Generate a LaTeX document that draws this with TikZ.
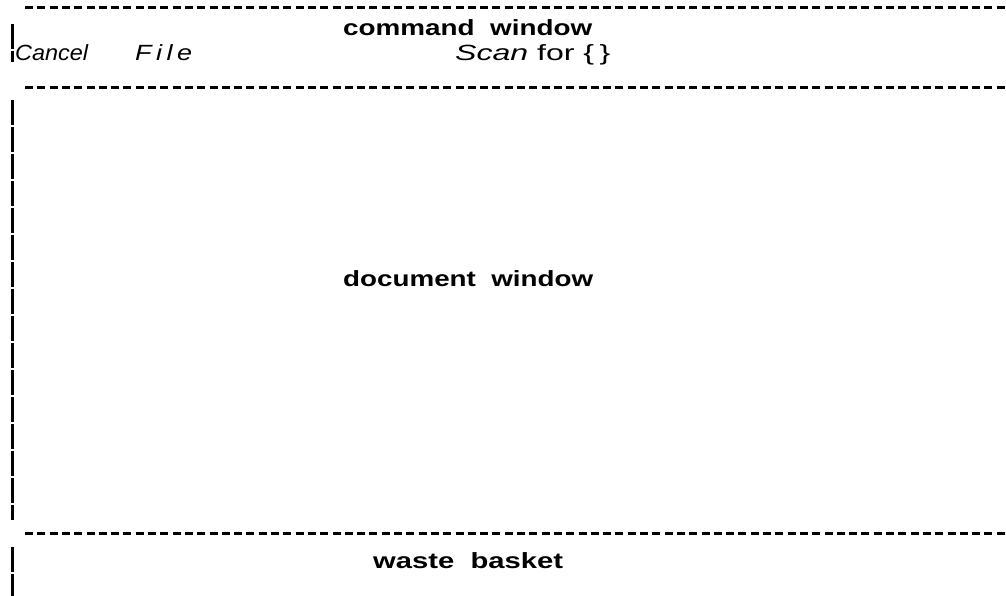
\documentclass[tikz,border=0pt]{standalone}
\usepackage{fontspec}
\setmainfont{Liberation Sans}
\tikzset{
  hdash/.style={line width=3pt, dash pattern=on 8pt off 4.3pt},
  vbar/.style={line width=3pt, dash pattern=on 25pt off 2pt},
  lbl/.style={anchor=base west, inner sep=0pt, font=\fontsize{22}{26}\selectfont},
}
\newcommand{\fitw}[2]{\resizebox{#1pt}{\height}{#2}}
\begin{document}
\begin{tikzpicture}[x=1pt,y=-1pt]
\useasboundingbox (0,0) rectangle (1006,596);
% horizontal dashed rules
\coordinate (t1) at (25,8);  \coordinate (t2) at (1006,8);
\coordinate (m1) at (25,88); \coordinate (m2) at (1006,88);
\coordinate (b1) at (25,533); \coordinate (b2) at (1006,533);
\draw[hdash] (t1) -- (t2);
\draw[hdash] (m1) -- (m2);
\draw[hdash] (b1) -- (b2);
% left bars
\coordinate (v1) at (12,24); \coordinate (v2) at (12,62);
\coordinate (v3) at (12,100); \coordinate (v4) at (12,520);
\coordinate (v5) at (12,547); \coordinate (v6) at (12,596);
\draw[vbar] (v1) -- (v2);
\draw[vbar] (v3) -- (v4);
\draw[vbar] (v5) -- (v6);
% labels
\node[lbl] (cw) at (343,36) {\fitw{249}{\bfseries command\ \ window}};
\node[lbl] (cancel) at (15,61) {\fitw{73}{\itshape Cancel}};
\node[lbl] (file) at (135,61) {\fitw{57}{\itshape F\,i\,l\,e}};
\node[lbl] (scan) at (455,61) {\fitw{155}{\textit{Scan} for \{\,\}}};
\node[lbl] (dw) at (343,286) {\fitw{250}{\bfseries document\ \ window}};
\node[lbl] (wb) at (373,568) {\fitw{190}{\bfseries waste\ \ basket}};
\end{tikzpicture}
\end{document}
